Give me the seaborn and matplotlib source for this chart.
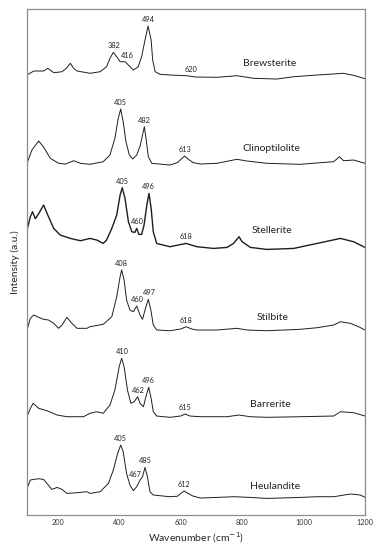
import numpy as np
import pandas as pd
import seaborn as sns
import matplotlib.pyplot as plt

# spectra: wavenumber (cm-1) and relative intensity (a.u.)
brew_wn = [100, 122, 154, 168, 187, 214, 228, 241, 252, 263, 295,
           305, 338, 359, 370, 381, 392, 403, 419, 430, 446, 462, 473, 484, 494, 504, 509, 517, 533, 565,
           620, 650, 718, 783, 838, 913, 968, 1044, 1130, 1163, 1200]
brew_int = [0, 4, 4, 6.7, 2.3, 3.3, 6.7, 11.7, 6.7, 4, 2.3,
            1.7, 3.3, 8.3, 16.7, 22.7, 18.3, 13.3, 13.3, 10, 5, 8.3, 18.3, 35, 49, 35, 15, 3.3, 0.7, 0,
            -0.7, -2, -2.3, -0.7, -3.3, -4, -1.7, 0, 1.7, -0.3, -3.7]

clino_wn = [100, 116, 138, 154, 176, 203, 225, 252, 274,
            305, 348, 370, 386, 397, 405, 413, 422, 433, 444, 457, 468, 476, 482, 488, 495, 506, 565,
            590, 602, 613, 624, 640, 664, 718, 783, 816, 881, 989, 1054, 1098, 1117, 1130, 1163, 1200]
clino_int = [0.7, 14, 23, 17, 5.7, 0.7, 0, 3.3, 0.7,
             -0.3, 2.3, 9, 25.7, 45.7, 55, 42.3, 22.3, 9, 5, 9, 18, 29, 37.3, 24, 7.3, 0.7, -1,
             1.5, 5, 8, 5, 1.5, 0, 0.7, 4.7, 3, 0.7, -0.3, 1.3, 2.3, 7.3, 3.3, 4, 0.7]

stell_wn = [100, 111, 118, 127, 138, 154, 170, 187, 208, 241, 274,
            305, 327, 348, 359, 376, 392, 403, 410, 419, 430, 441, 451, 457, 464, 473, 481, 490, 497,
            504, 511, 522, 565, 618, 653, 707, 751, 772, 790, 800, 827, 881, 968, 1044, 1120, 1163, 1200]
stell_int = [16.7, 30, 35, 28, 33, 41.7, 30, 18.3, 11.7, 8.3, 6,
             8.3, 6.7, 3.3, 6.7, 18.3, 31.7, 51.7, 59, 48.3, 25, 15, 14.3, 18.3, 12.3, 12.3, 21.7, 41.7, 53.3,
             38.3, 15, 3.3, 0, 3.3, 0, -1.7, -0.7, 3.3, 10, 5, -0.7, -2.7, -1.7, 3.3, 8.3, 5, -0.7]

stil_wn = [100, 111, 122, 138, 154, 170, 187, 203, 214, 230, 246, 263, 295,
           305, 348, 376, 392, 403, 408, 416, 424, 435, 446, 457, 468, 476, 487, 495, 503, 511, 522, 565,
           600, 618, 636, 653, 718, 783, 816, 881, 989, 1044, 1098, 1120, 1152, 1179, 1200]
stil_int = [-1, 10.7, 14, 11.7, 9.7, 9, 5.7, 0.7, 4, 11.7, 5.7, 0.7, 0.7,
            2.3, 4.7, 12.3, 32.3, 52.3, 59, 49, 29, 19, 17.3, 23, 14, 9.7, 22.3, 29.7, 19, 4, -1, -1.7,
            0, 2.3, 0, -1, -1, 0.7, -1, -1.7, -0.3, 1.3, 4, 7.3, 5.7, 2.3, -1]

barr_wn = [100, 111, 120, 138, 165, 198, 230, 284,
           305, 327, 348, 370, 386, 400, 408, 416, 427, 438, 449, 460, 468, 479, 487, 496, 504, 511, 522, 565,
           600, 615, 630, 664, 751, 789, 827, 881, 989, 1098, 1120, 1163, 1200]
barr_int = [-0.7, 7.7, 12.7, 7.7, 5.3, 1, -0.7, -0.7,
            2.7, 4.3, 2.7, 11, 26, 49.3, 57.7, 49.3, 26, 12.7, 14.3, 19.3, 12.7, 9.3, 19.3, 28.7, 17.7, 4.3, 0, -1.3,
            0, 2, 0, -0.7, -0.7, 1, -0.7, -1.3, -0.7, 0, 4.3, 3.3, 0]

heul_wn = [100, 111, 122, 138, 154, 165, 181, 198, 214, 230, 263, 295,
           305, 338, 365, 381, 395, 405, 413, 424, 435, 446, 457, 468, 476, 484, 492, 500, 511, 565,
           590, 601, 612, 623, 640, 664, 718, 772, 827, 881, 989, 1044, 1098, 1152, 1185, 1200]
heul_int = [8.3, 16.7, 17.3, 18, 17.3, 13.3, 7.3, 9.3, 7.3, 3.3, 4, 5,
            3.3, 5, 13.3, 26.7, 43.3, 51.7, 45, 23.3, 11.7, 6, 10, 16.7, 20, 29.3, 20, 5, 1.7, 0,
            0.5, 3.5, 5.7, 3.5, 0.7, -1.3, -0.7, 0, -0.7, -1.7, -0.7, 0, 0, 2.7, 1.7, -0.7]

minerals = ['Brewsterite', 'Clinoptilolite', 'Stellerite', 'Stilbite', 'Barrerite', 'Heulandite']
peaks = {
    'Brewsterite': [382, 416, 494, 620],
    'Clinoptilolite': [405, 482, 613],
    'Stellerite': [405, 460, 496, 618],
    'Stilbite': [408, 460, 497, 618],
    'Barrerite': [410, 462, 496, 615],
    'Heulandite': [405, 467, 485, 612],
}
spectra = {
    'Brewsterite': (brew_wn, brew_int),
    'Clinoptilolite': (clino_wn, clino_int),
    'Stellerite': (stell_wn, stell_int),
    'Stilbite': (stil_wn, stil_int),
    'Barrerite': (barr_wn, barr_int),
    'Heulandite': (heul_wn, heul_int),
}

# layout: vertical stacking offsets and label placement
offsets = {'Brewsterite': 440, 'Clinoptilolite': 351, 'Stellerite': 268.3,
           'Stilbite': 186, 'Barrerite': 99, 'Heulandite': 18.3}
name_pos = {'Brewsterite': (802, 12), 'Clinoptilolite': (802, 15.7), 'Stellerite': (832, 16.7),
            'Stilbite': (848, 11.7), 'Barrerite': (827, 12), 'Heulandite': (825, 10.7)}
label_shift = {('Brewsterite', 416): (9, 0), ('Brewsterite', 620): (15, 0),
               ('Stellerite', 405): (4, 0), ('Heulandite', 467): (-15, -3)}

sns.set_style("white")
plt.rcParams['font.family'] = ['Lato', 'DejaVu Sans']

fig = plt.figure(figsize=(3.77, 5.5), dpi=100)
ax = fig.add_axes([0.0716, 0.0636, 0.8966, 0.92])

for m in minerals:
    wn, inten = spectra[m]
    y = np.array(inten) + offsets[m]
    sns.lineplot(x=wn, y=y, ax=ax, color='#1e1e1e', sort=False, estimator=None,
                 linewidth=1.0 if m == 'Stellerite' else 0.7)
    for p in peaks[m]:
        dx, dy = label_shift.get((m, p), (0, 0))
        top = np.max(np.interp(np.linspace(p - 6, p + 6, 13), wn, inten))
        ax.text(p + dx, top + offsets[m] + 6.5 + dy, str(p), ha='center', va='center',
                fontsize=5.3, color='#222222')
    nx, ny = name_pos[m]
    ax.text(nx, offsets[m] + ny, m, ha='left', va='center', fontsize=7.5, color='#222222')

ax.set_xlim(100, 1200)
ax.set_ylim(0, 506)
ax.set_xticks([200, 400, 600, 800, 1000, 1200])
ax.set_yticks([])
ax.tick_params(axis='x', labelsize=5.2, length=0, pad=3, colors='#333333')
for s in ax.spines.values():
    s.set_color('#8c8c8c')
    s.set_linewidth(0.9)
ax.set_xlabel('Wavenumber (cm$^{-1}$)', fontsize=7.5, labelpad=3)
ax.set_ylabel('Intensity (a.u.)', fontsize=7.5, labelpad=5)

fig.savefig('out.png', dpi=100)
